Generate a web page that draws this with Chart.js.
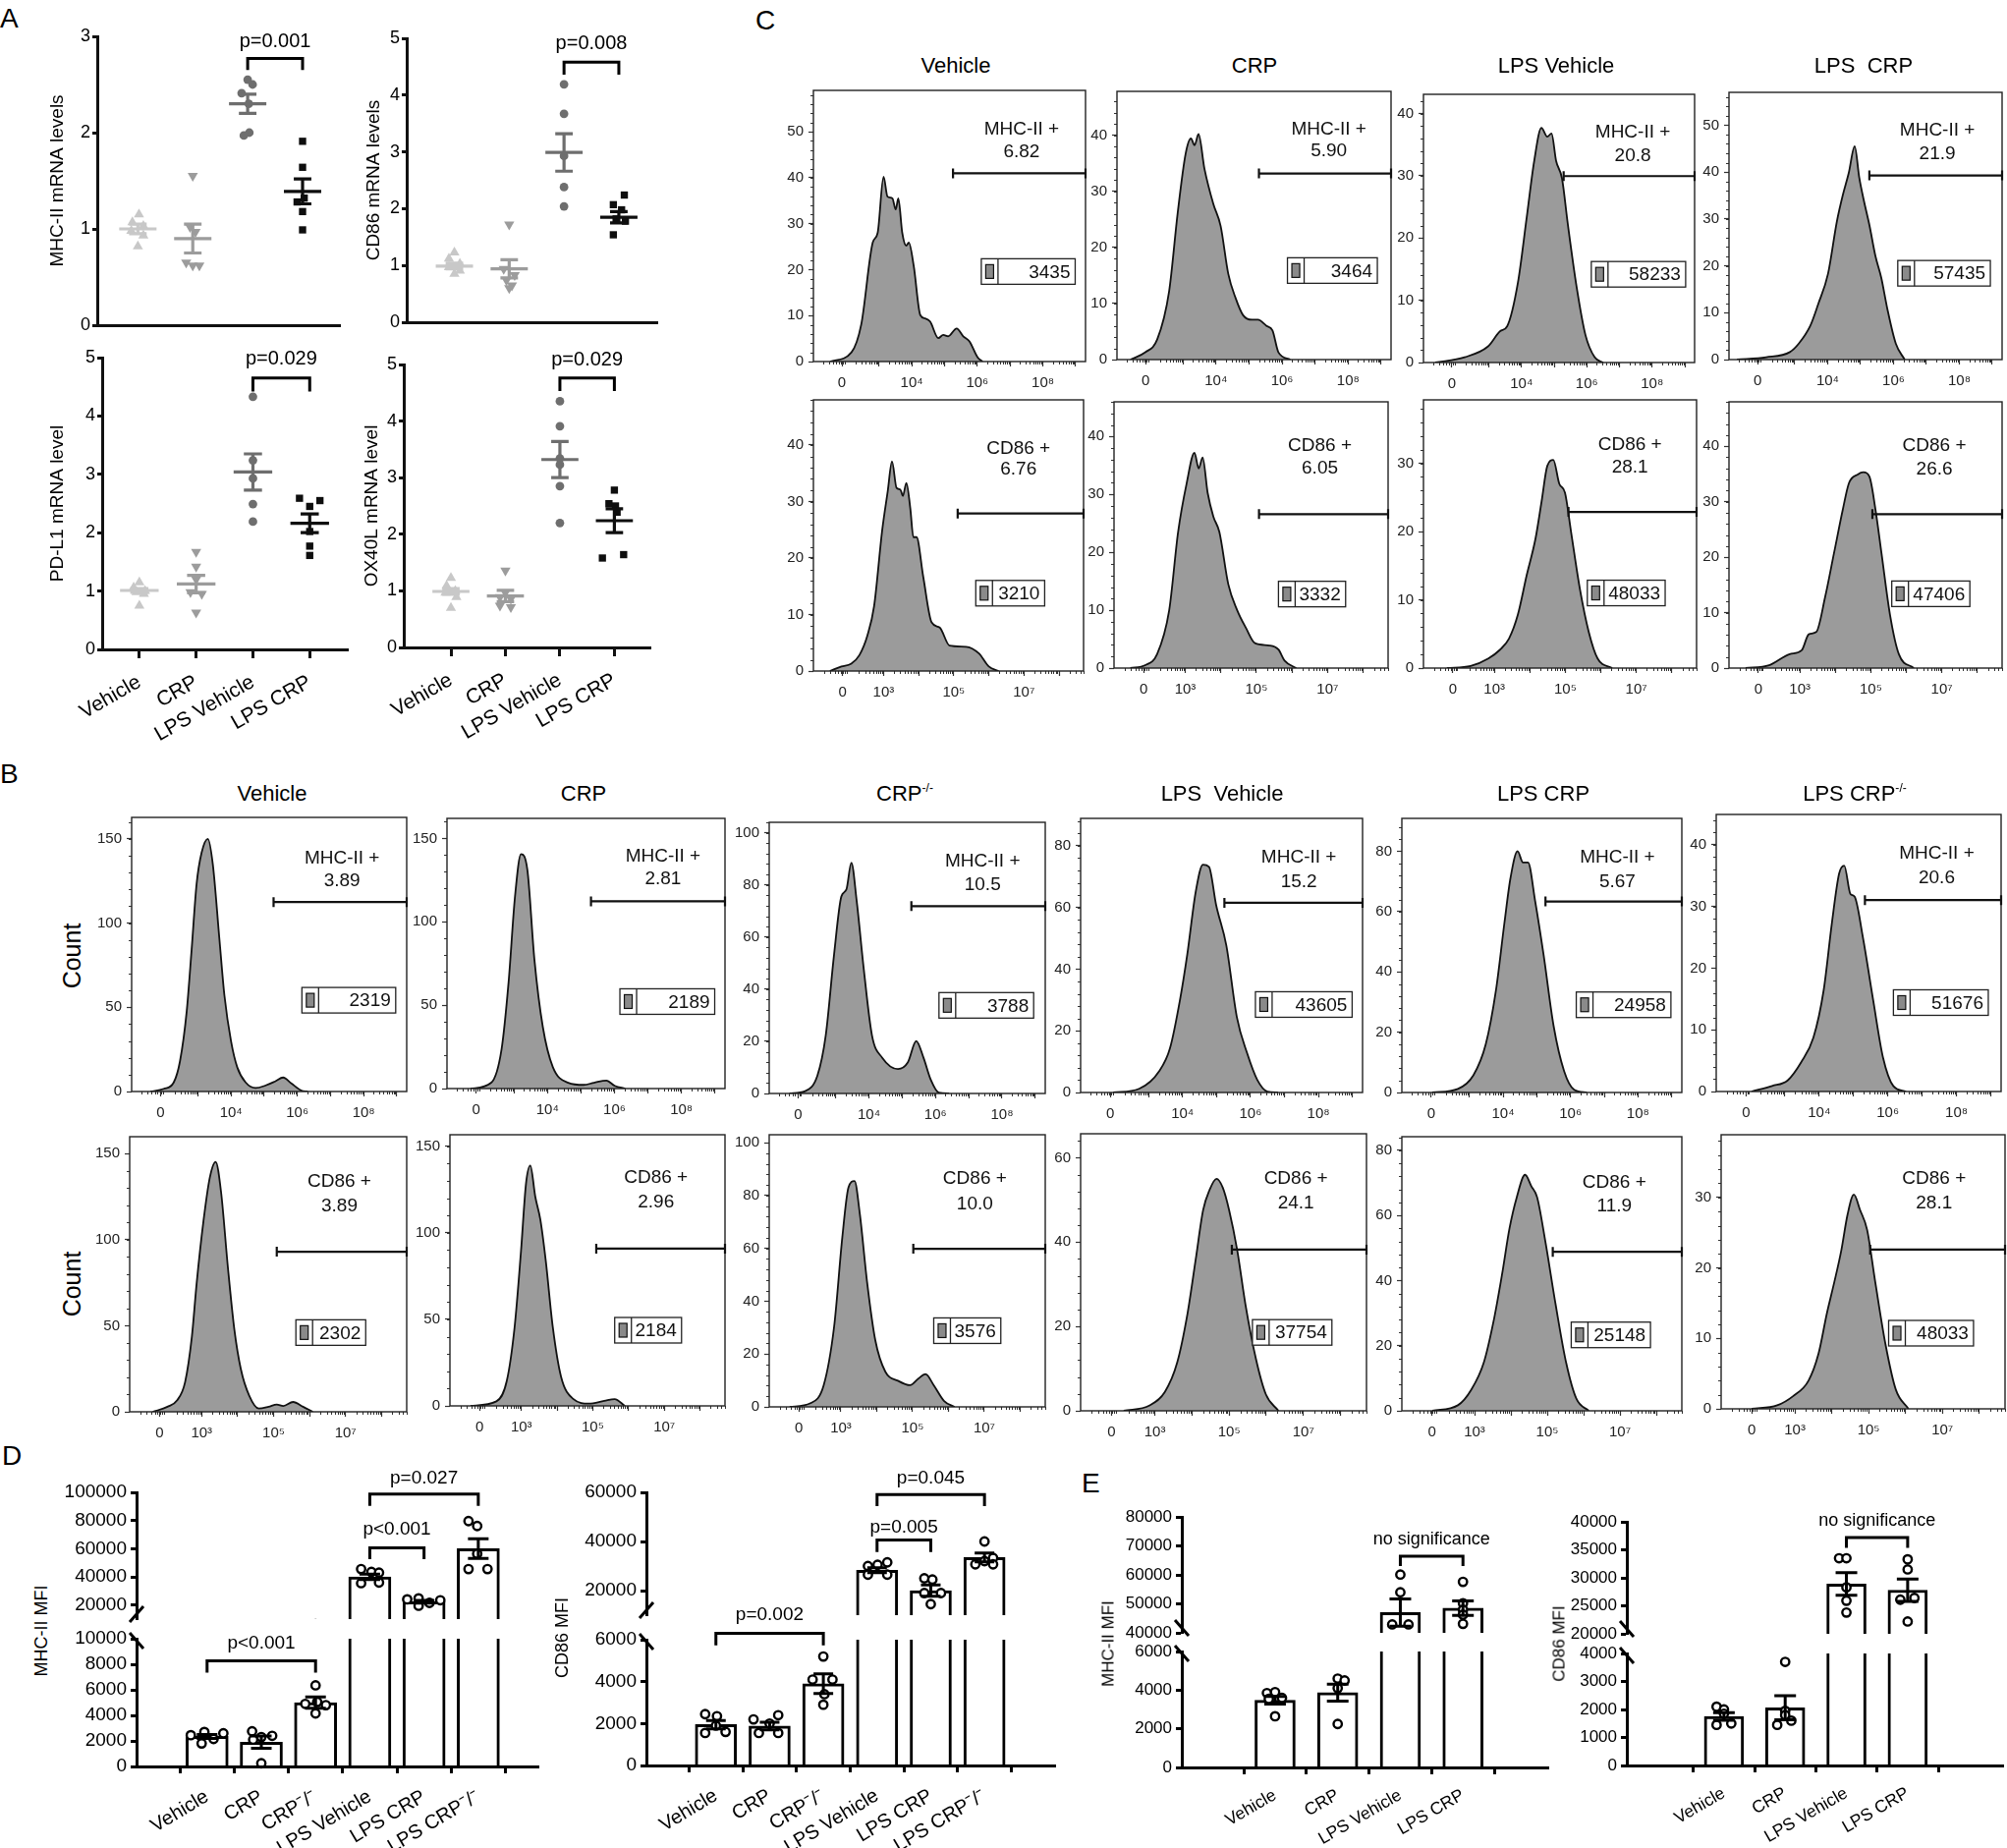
<!DOCTYPE html>
<html><head><meta charset="utf-8"><title>Figure</title>
<script src="https://cdn.jsdelivr.net/npm/chart.js"></script>
<style>
html,body{margin:0;padding:0;background:#fff;}
#page{position:relative;width:2043px;height:1881px;overflow:hidden;background:#fff;}
.t{position:absolute;white-space:pre;line-height:1;font-family:'Liberation Sans',Arial,Helvetica,sans-serif;color:#000;}
.t sup{font-size:0.55em;vertical-align:0.75em;line-height:0;}
canvas{position:absolute;}
</style></head><body><div id="page"></div>
<script>
// ================= DATA =================
// ---- Panel A (relative mRNA levels) ----
const aGroups = ['Vehicle', 'CRP', 'LPS Vehicle', 'LPS CRP'];
const aMhcPts = [[1.15,1.07,1.03,0.98,0.93,0.82],[1.55,1.02,0.97,0.65,0.62,0.62],[2.55,2.5,2.41,2.3,2.0,1.97],[1.91,1.64,1.32,1.28,1.18,0.99]];
const aMhcMean = [1.0, 0.9, 2.3, 1.39];
const aMhcSem = [0.05, 0.15, 0.1, 0.13];
const aCd86Pts = [[1.23,1.12,1.03,0.97,0.91,0.85],[1.72,0.94,0.83,0.74,0.65,0.6],[4.19,3.67,2.93,2.38,2.04],[2.24,2.07,1.98,1.82,1.78,1.54]];
const aCd86Mean = [0.99, 0.94, 2.99, 1.85];
const aCd86Sem = [0.05, 0.16, 0.33, 0.1];
const aPdl1Pts = [[1.15,1.06,1.0,0.98,0.95,0.75],[1.67,1.42,1.2,0.98,0.95,0.63],[4.33,3.24,2.93,2.49,2.19],[2.59,2.55,2.45,2.02,1.77,1.61]];
const aPdl1Mean = [1.01, 1.12, 3.04, 2.16];
const aPdl1Sem = [0.03, 0.15, 0.31, 0.16];
const aOx40lPts = [[1.23,1.09,1.0,0.97,0.89,0.7],[1.36,0.97,0.89,0.86,0.74,0.71],[4.35,3.91,3.34,3.23,2.85,2.2],[2.78,2.54,2.5,2.39,1.64,1.58]];
const aOx40lMean = [0.99, 0.91, 3.32, 2.24];
const aOx40lSem = [0.05, 0.1, 0.32, 0.21];
const aPvals = ['p=0.001', 'p=0.008', 'p=0.029', 'p=0.029'];
const aTitles = ['MHC-II mRNA levels', 'CD86 mRNA levels', 'PD-L1 mRNA level', 'OX40L mRNA level'];

// ---- Panels B / C (flow histograms: [x in decades, count]) ----
const mhcTickPos = [1.87, 3, 4, 5, 6, 7, 8, 9];
const mhcTickLabels = ['0', '', '10⁴', '', '10⁶', '', '10⁸', ''];
const cd86TickPos = [1.83, 3, 4, 5, 6, 7, 8];
const cd86TickLabels = ['0', '10³', '', '10⁵', '', '10⁷', ''];

const cMhcVehicle = [[1.51,0],[2.16,2],[2.46,8.1],[2.81,25.9],[2.96,28],[3.14,40.2],[3.26,35.9],[3.41,35.5],[3.51,33.1],[3.59,35.5],[3.71,28],[3.83,25.2],[3.91,25.9],[4.06,20.8],[4.26,10.1],[4.41,9.4],[4.56,8.7],[4.81,5.1],[4.96,5.8],[5.11,5.5],[5.37,7.2],[5.57,5.5],[5.76,4.4],[6.01,0.9],[6.16,0]];
const cMhcCrp = [[1.41,0],[1.86,1.3],[2.22,3.6],[2.58,12.2],[2.84,26.2],[3.08,36.7],[3.24,39.4],[3.35,38.2],[3.47,40.2],[3.65,34],[3.92,27.7],[4.14,23.8],[4.37,15.3],[4.59,11],[4.82,7.9],[5.09,7.1],[5.27,7.1],[5.53,6.0],[5.71,5.2],[5.89,1.3],[6.25,0]];
const cMhcLpsVehicle = [[1.36,0],[2.26,0.85],[2.98,2.6],[3.35,5.05],[3.56,5.8],[3.89,12.8],[4.16,23.3],[4.39,32.4],[4.61,37.7],[4.79,36.3],[4.92,36.8],[5.06,32.4],[5.24,29.6],[5.42,22.2],[5.69,12.1],[5.96,4.4],[6.24,0.85],[6.5,0]];
const cMhcLpsCrp = [[1.24,0],[2.13,0.5],[2.85,1.6],[3.12,3.4],[3.47,7.2],[3.71,11.8],[4.01,18.3],[4.28,29.5],[4.46,35.1],[4.64,39.8],[4.82,45.5],[4.96,38.8],[5.09,34.2],[5.27,28.6],[5.45,22.1],[5.63,17.4],[5.81,10.9],[6.07,3.4],[6.34,0]];
const cCd86Vehicle = [[1.47,0],[1.8,0.8],[2.08,1.3],[2.31,2.8],[2.54,6.3],[2.73,11.5],[2.96,24.9],[3.12,31.9],[3.24,37.1],[3.37,32.4],[3.48,32.1],[3.55,31],[3.65,33.3],[3.76,28.9],[3.85,23.7],[3.94,23.7],[4.13,16.7],[4.37,8.6],[4.6,7.7],[4.88,4.5],[5.35,4.3],[5.72,3.1],[6.0,0.8],[6.28,0]];
const cCd86Crp = [[1.46,0],[1.88,0.5],[2.21,2.4],[2.55,10],[2.8,23.5],[3.04,31.9],[3.26,37.2],[3.38,34.5],[3.49,36.4],[3.63,30.3],[3.79,26.2],[3.96,23.5],[4.21,14.5],[4.46,10],[4.71,6.9],[4.96,4.3],[5.37,3.9],[5.62,3.2],[5.79,1.3],[6.12,0]];
const cCd86LpsVehicle = [[1.66,0],[2.33,0.3],[2.83,1.4],[3.16,2.7],[3.41,4.3],[3.66,7.8],[3.91,13.6],[4.16,19],[4.33,24.4],[4.49,29.6],[4.66,30.5],[4.83,27],[4.99,25.7],[5.16,20],[5.41,11.6],[5.66,5.3],[5.91,1.4],[6.32,0]];
const cCd86LpsCrp = [[1.47,0],[2.13,0.5],[2.71,2.5],[3.05,3.2],[3.25,6.1],[3.46,6.5],[3.71,12.8],[3.96,20.7],[4.21,28.6],[4.38,33.3],[4.63,34.9],[4.79,35.3],[4.96,34.5],[5.13,28.6],[5.3,20.7],[5.54,9.6],[5.79,2.5],[6.21,0]];
const cMhcPct = ['6.82', '5.90', '20.8', '21.9'];
const cMhcMfi = ['3435', '3464', '58233', '57435'];
const cCd86Pct = ['6.76', '6.05', '28.1', '26.6'];
const cCd86Mfi = ['3210', '3332', '48033', '47406'];

const bMhcVehicle = [[1.57,0],[1.97,1.6],[2.27,5.4],[2.46,18.1],[2.66,47.3],[2.81,84.2],[2.96,123.2],[3.11,141.7],[3.3,150],[3.45,134.8],[3.65,90.1],[3.8,57],[4.0,29.8],[4.19,14.2],[4.44,5.4],[4.74,2.1],[5.03,3.5],[5.33,6.0],[5.57,8.3],[5.82,4.8],[6.12,0.6],[6.31,0]];
const bMhcCrp = [[1.71,0],[2.32,3.5],[2.63,23.7],[2.84,64],[3.03,115],[3.21,140.6],[3.4,131.2],[3.61,77.4],[3.86,37.1],[4.16,12.9],[4.62,3.5],[5.08,2.2],[5.39,3.5],[5.76,4.8],[6.01,1.6],[6.32,0]];
const bMhcCrpKo = [[1.61,0],[2.08,0.9],[2.45,6.9],[2.7,22.3],[2.95,53.3],[3.17,75.6],[3.32,78.2],[3.47,88.5],[3.63,73.9],[3.84,48.1],[4.09,22.3],[4.4,13.7],[4.87,9.4],[5.17,12],[5.42,20.1],[5.64,13.7],[5.86,5.2],[6.1,0.3],[6.41,0]];
const bMhcLpsVehicle = [[1.96,0],[2.72,1.2],[3.32,7],[3.63,14.3],[3.93,30.3],[4.14,44.8],[4.39,65.2],[4.6,73.9],[4.78,73.2],[4.99,60.8],[5.29,47.7],[5.6,24.4],[5.9,12.8],[6.2,4.1],[6.5,0.3],[6.81,0]];
const bMhcLpsCrp = [[1.9,0],[2.66,1.2],[3.12,5.7],[3.49,16.1],[3.79,33.9],[4.04,56.2],[4.22,71.1],[4.43,80],[4.59,76.3],[4.74,76.3],[4.95,63.6],[5.2,45.8],[5.5,22],[5.81,7.1],[6.11,0.9],[6.48,0]];
const bMhcLpsCrpKo = [[2.03,0],[2.63,0.9],[3.08,1.8],[3.47,4.7],[3.83,8.7],[4.13,16.4],[4.37,27.3],[4.58,35.3],[4.73,36.6],[4.91,32],[5.03,31.6],[5.27,25.1],[5.57,14.9],[5.86,5.5],[6.16,0.9],[6.53,0]];
const bCd86Vehicle = [[1.64,0],[2.05,2.9],[2.32,6.7],[2.54,17.2],[2.73,43.9],[2.86,74.3],[3.05,110.6],[3.23,136.3],[3.39,145.2],[3.54,127.7],[3.73,83.9],[3.91,47.7],[4.09,24.8],[4.32,9.5],[4.59,1.9],[4.86,2.9],[5.09,4.2],[5.27,3.4],[5.54,5.7],[5.82,2.9],[6.09,0]];
const bCd86Crp = [[1.58,0],[2.3,2.6],[2.59,14.3],[2.81,45.4],[2.99,89.5],[3.13,128.5],[3.25,138.8],[3.39,120.7],[3.53,107.7],[3.68,84.3],[3.88,45.4],[4.11,16.9],[4.46,3.9],[4.89,1.3],[5.32,2.9],[5.61,3.9],[5.9,0]];
const bCd86CrpKo = [[1.57,0],[2.15,1.4],[2.52,8.2],[2.81,30.3],[3.04,64.3],[3.21,83],[3.38,85.5],[3.53,72.8],[3.73,47.3],[3.96,25.2],[4.24,13.3],[4.59,9.9],[4.93,8.2],[5.16,10.7],[5.36,12.4],[5.59,8.2],[5.88,2.2],[6.17,0]];
const bCd86LpsVehicle = [[2.16,0],[2.86,1.3],[3.27,4.5],[3.6,11.4],[3.88,23.1],[4.1,35.9],[4.3,47.6],[4.47,52.3],[4.66,55],[4.83,52.9],[5.0,47.6],[5.22,38],[5.44,25.2],[5.72,12.4],[5.99,3.9],[6.33,0]];
const bCd86LpsCrp = [[1.84,0],[2.54,1.7],[2.91,6.5],[3.25,14.7],[3.54,28.5],[3.76,42.2],[3.96,56],[4.16,65.6],[4.39,72.5],[4.56,69],[4.72,65.6],[4.95,51.8],[5.23,32.6],[5.52,14.7],[5.8,3.7],[6.14,0]];
const bCd86LpsCrpKo = [[1.83,0],[2.52,0.5],[2.95,1.8],[3.37,4],[3.64,7.8],[3.87,13.6],[4.07,18],[4.26,22.5],[4.43,27.6],[4.6,30.4],[4.77,28.2],[4.96,25.4],[5.18,18],[5.46,9.1],[5.74,2.7],[6.08,0]];
const bMhcPct = ['3.89', '2.81', '10.5', '15.2', '5.67', '20.6'];
const bMhcMfi = ['2319', '2189', '3788', '43605', '24958', '51676'];
const bCd86Pct = ['3.89', '2.96', '10.0', '24.1', '11.9', '28.1'];
const bCd86Mfi = ['2302', '2184', '3576', '37754', '25148', '48033'];

// ---- Panel D (MFI) ----
const dGroups = ['Vehicle', 'CRP', 'CRP⁻/⁻', 'LPS Vehicle', 'LPS CRP', 'LPS CRP⁻/⁻'];
const dMhcPts = [[2450,1800,2700,2150,2600],[2750,2300,250,2400,2100],[6350,4900,4800,4150,5050],[45500,43500,43000,35500,36000],[24000,24700,19500,21500,23400],[79600,76100,56400,45500,45500]];
const dMhcMean = [2350, 1900, 5000, 40000, 22300, 60000];
const dMhcSem = [150, 480, 450, 2000, 1000, 7000];
const dMhcP = ['p<0.001', 'p<0.001', 'p=0.027'];
const dCd86Pts = [[2450,2350,1550,1600,1900],[2200,2400,1550,1550,2000],[5200,4100,4100,2900,3400],[30000,30500,31500,26500,26500],[25000,24500,19000,19000,14500],[40000,30700,33300,30700,32000]];
const dCd86Mean = [1950, 1880, 3900, 28300, 20000, 33500];
const dCd86Sem = [200, 180, 470, 1000, 2300, 1800];
const dCd86P = ['p=0.002', 'p=0.005', 'p=0.045'];

// ---- Panel E (MFI) ----
const eGroups = ['Vehicle', 'CRP', 'LPS Vehicle', 'LPS CRP'];
const eMhcPts = [[3850,3900,3600,3550,2650],[4600,4500,4100,2250],[60100,54000,42900,42900],[57600,50200,48000,46300,43100]];
const eMhcMean = [3480, 3870, 47000, 48500];
const eMhcSem = [200, 440, 4700, 2500];
const eCd86Pts = [[2100,2000,1850,1500,1450],[3700,1950,1800,1450,1600],[33500,33500,28300,25900,23800],[33300,31500,26100,26400,22200]];
const eCd86Mean = [1750, 2060, 28900, 27800];
const eCd86Sem = [140, 430, 2000, 2000];
const eP = ['no significance'];

// ================= LAYOUT (positions, jitter, styles) =================
const FONT = "'Liberation Sans', Arial, Helvetica, sans-serif";
Chart.defaults.font.family = FONT;
Chart.defaults.color = '#000';
const page = document.getElementById('page');

function makeChart(area, m, cfg) {
  const L = Math.round(area.l) - m.l, T = Math.round(area.t) - m.t;
  const R = Math.round(area.r) + m.r, B = Math.round(area.b) + m.b;
  const W = R - L, H = B - T;
  const cv = document.createElement('canvas');
  cv.width = W; cv.height = H;
  cv.style.left = L + 'px'; cv.style.top = T + 'px';
  cv.style.width = W + 'px'; cv.style.height = H + 'px';
  page.appendChild(cv);
  const o = cfg.options;
  o.responsive = false; o.animation = false; o.devicePixelRatio = 1; o.events = [];
  o.plugins = Object.assign({legend: {display: false}, tooltip: {enabled: false}, title: {display: false}}, o.plugins || {});
  o.layout = {autoPadding: false, padding: {left: 0, top: m.t, right: m.r, bottom: 0}};
  o.scales.x.afterFit = s => { s.height = m.b; s.paddingLeft = 0; s.paddingRight = 0; };
  o.scales.y.afterFit = s => { s.width = m.l; s.paddingTop = 0; s.paddingBottom = 0; };
  return new Chart(cv, cfg);
}

function txt(html, x, y, size, o) {
  o = o || {};
  const d = document.createElement('div');
  d.className = 't'; d.innerHTML = html;
  d.style.left = x + 'px'; d.style.top = y + 'px'; d.style.fontSize = size + 'px';
  let tf = o.lt ? '' : 'translate(-50%,-50%)';
  if (o.rot) tf += ' rotate(-90deg)';
  if (tf) d.style.transform = tf;
  page.appendChild(d);
}

function bracket(ctx, x, y, br, text, font, lw) {
  const x1 = x.getPixelForValue(br.g1), x2 = x.getPixelForValue(br.g2);
  const p1 = y.getPixelForValue(br.y), p2 = y.getPixelForValue(br.y2);
  ctx.strokeStyle = '#000'; ctx.lineWidth = lw; ctx.lineJoin = 'miter'; ctx.lineCap = 'butt';
  ctx.beginPath(); ctx.moveTo(x1, p2); ctx.lineTo(x1, p1); ctx.lineTo(x2, p1); ctx.lineTo(x2, p2); ctx.stroke();
  ctx.fillStyle = '#000'; ctx.font = font; ctx.textAlign = 'center'; ctx.textBaseline = 'middle';
  ctx.fillText(text, (x1 + x2) / 2, y.getPixelForValue(br.ty));
}

// ---------- Panel A ----------
const aStyles = [
  {ps: 'triangle', rot: 0, c: '#c8c8c8', r: 6},
  {ps: 'triangle', rot: 180, c: '#9c9c9c', r: 6},
  {ps: 'circle', rot: 0, c: '#6e6e6e', r: 4.4},
  {ps: 'rect', rot: 0, c: '#0e0e0e', r: 5.2}
];
function dotOverlay(P) {
  return {id: 'dotov', afterDatasetsDraw(chart) {
    const {ctx, scales: {x, y}} = chart;
    ctx.save(); ctx.lineWidth = 3.2; ctx.lineCap = 'butt';
    P.means.forEach((mv, i) => {
      const g = i + 1; ctx.strokeStyle = aStyles[i].c;
      const xc = x.getPixelForValue(g), hw = x.getPixelForValue(g + 0.34) - xc, cw = x.getPixelForValue(g + 0.16) - xc;
      const pm = y.getPixelForValue(mv), ph = y.getPixelForValue(mv + P.sems[i]), pl = y.getPixelForValue(mv - P.sems[i]);
      ctx.beginPath();
      ctx.moveTo(xc - hw, pm); ctx.lineTo(xc + hw, pm);
      ctx.moveTo(xc, ph); ctx.lineTo(xc, pl);
      ctx.moveTo(xc - cw, ph); ctx.lineTo(xc + cw, ph);
      ctx.moveTo(xc - cw, pl); ctx.lineTo(xc + cw, pl);
      ctx.stroke();
    });
    bracket(ctx, x, y, P.br, P.ptxt, '20px ' + FONT, 3);
    ctx.restore();
  }};
}
function dotPanel(area, m, P) {
  const ds = P.pts.map((g, i) => ({
    type: 'scatter',
    data: g.map((v, j) => ({x: i + 1 + P.jit[i][j], y: v})),
    pointStyle: aStyles[i].ps, pointRotation: aStyles[i].rot, pointRadius: aStyles[i].r,
    pointBackgroundColor: aStyles[i].c, pointBorderColor: aStyles[i].c, pointBorderWidth: 0
  }));
  const yt = []; for (let v = 0; v <= P.ymax; v++) yt.push(v);
  const cfg = {type: 'scatter', data: {datasets: ds}, options: {scales: {
    x: {type: 'linear', min: P.xmin, max: P.xmax,
        afterBuildTicks: s => { s.ticks = [1, 2, 3, 4].map(v => ({value: v})); },
        ticks: {display: P.showX, autoSkip: false, minRotation: 30, maxRotation: 30, padding: 12, font: {size: 21}, color: '#000', callback: (v, i) => aGroups[i]},
        grid: {display: true, drawOnChartArea: false, drawTicks: P.showX, tickLength: 9, tickWidth: 3, tickColor: '#111'},
        border: {display: true, width: 3, color: '#111', z: 1}},
    y: {type: 'linear', min: 0, max: P.ymax,
        afterBuildTicks: s => { s.ticks = yt.map(v => ({value: v})); },
        ticks: {autoSkip: false, padding: 2, font: {size: 18}, color: '#000', callback: v => String(v)},
        grid: {drawOnChartArea: false, tickLength: 5, tickWidth: 3, tickColor: '#111'},
        border: {width: 3, color: '#111', z: 1},
        title: {display: true, text: P.title, font: {size: 19}, color: '#000', padding: 0}}
  }}, plugins: [dotOverlay(P)]};
  makeChart(area, m, cfg);
}

dotPanel({l: 99.4, t: 37, r: 345.6, b: 331}, {l: 52, t: 22, r: 8, b: 6}, {
  pts: aMhcPts, means: aMhcMean, sems: aMhcSem, ymax: 3, xmin: 0.26, xmax: 4.68, showX: false, title: aTitles[0], ptxt: aPvals[0],
  jit: [[0.02,-0.1,0.1,-0.12,0.1,0],[0,-0.05,0.05,-0.12,0,0.12],[0,0.09,-0.11,0.02,0.03,-0.07],[0,0,0.03,-0.1,0,0]],
  br: {g1: 3, g2: 4, y: 2.77, y2: 2.65, ty: 2.94}});
dotPanel({l: 414.4, t: 39, r: 669, b: 328}, {l: 45, t: 22, r: 8, b: 6}, {
  pts: aCd86Pts, means: aCd86Mean, sems: aCd86Sem, ymax: 5, xmin: 0.13, xmax: 4.7, showX: false, title: aTitles[1], ptxt: aPvals[1],
  jit: [[0,-0.1,0.1,-0.1,0.1,0],[0,-0.1,0.1,-0.05,0.05,0],[0,0,0,0,0],[0.1,-0.1,0.05,-0.05,0.12,-0.1]],
  br: {g1: 3, g2: 4, y: 4.58, y2: 4.36, ty: 4.9}});
dotPanel({l: 104.2, t: 364, r: 353.9, b: 661}, {l: 57, t: 22, r: 8, b: 120}, {
  pts: aPdl1Pts, means: aPdl1Mean, sems: aPdl1Sem, ymax: 5, xmin: 0.345, xmax: 4.67, showX: true, title: aTitles[2], ptxt: aPvals[2],
  jit: [[0,-0.1,0.1,-0.05,0.08,0],[0,0,0,-0.1,0.1,0],[0,0,0,0,0],[-0.18,0.18,0,0,0,0]],
  br: {g1: 3, g2: 4, y: 4.65, y2: 4.42, ty: 4.98}});
dotPanel({l: 411, t: 371, r: 661.7, b: 659}, {l: 44, t: 22, r: 8, b: 120}, {
  pts: aOx40lPts, means: aOx40lMean, sems: aOx40lSem, ymax: 5, xmin: 0.134, xmax: 4.66, showX: true, title: aTitles[3], ptxt: aPvals[3],
  jit: [[0,-0.08,0.08,-0.1,0.1,0],[0,0,-0.1,0.1,-0.1,0.1],[0,0,0,0,0,0],[0,-0.1,0.02,0.05,0.17,-0.22]],
  br: {g1: 3, g2: 4, y: 4.76, y2: 4.53, ty: 5.07}});

// ---------- Histograms (B, C) ----------
const MHC = {min: 1.0, max: 9.3, pos: mhcTickPos, labels: mhcTickLabels};
const CD86 = {min: 1.0, max: 8.7, pos: cd86TickPos, labels: cd86TickLabels};

function histOverlay(ymax, minor, ann, marker, pct, mfi) {
  return {id: 'histov', afterDraw(chart) {
    const {ctx, chartArea: a, scales: {x, y}} = chart;
    const W = a.right - a.left, H = a.bottom - a.top;
    const fx = f => a.left + f * W, fy = f => a.top + f * H;
    ctx.save();
    ctx.strokeStyle = '#333'; ctx.lineWidth = 1;
    ctx.beginPath();
    for (let v = 0; v <= ymax + 1e-6; v += minor) { const p = Math.round(y.getPixelForValue(v)) + 0.5; ctx.moveTo(a.left - 3, p); ctx.lineTo(a.left, p); }
    for (let k = 1; k <= 9; k++) for (let mm = 2; mm <= 9; mm++) {
      const d = k + Math.log10(mm);
      if (d > x.min && d < x.max) { const p = Math.round(x.getPixelForValue(d)) + 0.5; ctx.moveTo(p, a.bottom); ctx.lineTo(p, a.bottom + 3); }
    }
    ctx.stroke();
    ctx.strokeStyle = '#222'; ctx.lineWidth = 1.4;
    ctx.strokeRect(a.left, a.top, W, H);
    const gx = fx(ann.g[0]), gy = fy(ann.g[1]);
    ctx.strokeStyle = '#111'; ctx.lineWidth = 2.2;
    ctx.beginPath(); ctx.moveTo(gx, gy); ctx.lineTo(a.right, gy);
    ctx.moveTo(gx, gy - 5); ctx.lineTo(gx, gy + 5); ctx.moveTo(a.right, gy - 5); ctx.lineTo(a.right, gy + 5); ctx.stroke();
    ctx.fillStyle = '#111'; ctx.font = '19px ' + FONT; ctx.textAlign = 'center'; ctx.textBaseline = 'middle';
    ctx.fillText(marker, fx(ann.l[0]), fy(ann.l[1]));
    ctx.fillText(pct, fx(ann.l[0]), fy(ann.l[2]));
    const bx1 = fx(ann.b[0]), bx2 = fx(ann.b[1]), bc = fy(ann.b[2]), bh = 26;
    ctx.fillStyle = '#fff'; ctx.fillRect(bx1, bc - bh / 2, bx2 - bx1, bh);
    ctx.lineWidth = 1.3; ctx.strokeStyle = '#222'; ctx.strokeRect(bx1, bc - bh / 2, bx2 - bx1, bh);
    ctx.beginPath(); ctx.moveTo(bx1 + 17, bc - bh / 2); ctx.lineTo(bx1 + 17, bc + bh / 2); ctx.stroke();
    ctx.fillStyle = '#8a8a8a'; ctx.fillRect(bx1 + 4.5, bc - 7, 8, 14);
    ctx.lineWidth = 1.2; ctx.strokeStyle = '#111'; ctx.strokeRect(bx1 + 4.5, bc - 7, 8, 14);
    ctx.fillStyle = '#111'; ctx.textAlign = 'right'; ctx.fillText(mfi, bx2 - 5, bc + 1);
    ctx.restore();
  }};
}

function hist(area, curve, ymax, ystep, ax, ann, marker, pct, mfi) {
  const yt = []; for (let v = 0; v <= ymax + 1e-6; v += ystep) yt.push(v);
  const minor = ystep === 50 ? 10 : ystep / 5;
  const gridOpt = {display: true, drawOnChartArea: false, drawTicks: true, tickLength: 5, tickWidth: 1.2, tickColor: '#333'};
  const cfg = {type: 'line',
    data: {datasets: [{data: curve.map(p => ({x: p[0], y: p[1]})), borderColor: '#111', borderWidth: 1.8,
      backgroundColor: '#9b9b9b', fill: 'origin', pointRadius: 0, cubicInterpolationMode: 'monotone'}]},
    options: {scales: {
      x: {type: 'linear', min: ax.min, max: ax.max,
          afterBuildTicks: s => { s.ticks = ax.pos.map(v => ({value: v})); },
          ticks: {autoSkip: false, minRotation: 0, maxRotation: 0, padding: 8, color: '#222', font: {size: 15}, callback: (v, i) => ax.labels[i]},
          grid: gridOpt, border: {display: false}},
      y: {type: 'linear', min: 0, max: ymax,
          afterBuildTicks: s => { s.ticks = yt.map(v => ({value: v})); },
          ticks: {autoSkip: false, padding: 5, color: '#222', font: {size: 15}, callback: v => String(v)},
          grid: gridOpt, border: {display: false}}
    }},
    plugins: [histOverlay(ymax, minor, ann, marker, pct, mfi)]};
  makeChart(area, {l: 44, t: 4, r: 4, b: 36}, cfg);
}

// Panel C, row 1 (MHC-II) and row 2 (CD86)
hist({l: 828, t: 92.3, r: 1105, b: 367.7}, cMhcVehicle, 59, 10, MHC, {g: [.513, .306], l: [.765, .143, .228], b: [.617, .962, .668]}, 'MHC-II +', cMhcPct[0], cMhcMfi[0]);
hist({l: 1137.3, t: 93.1, r: 1415.7, b: 366.4}, cMhcCrp, 47.8, 10, MHC, {g: [.518, .306], l: [.773, .143, .224], b: [.622, .95, .668]}, 'MHC-II +', cMhcPct[1], cMhcMfi[1]);
hist({l: 1448.8, t: 95.8, r: 1725.4, b: 368.7}, cMhcLpsVehicle, 43.1, 10, MHC, {g: [.517, .305], l: [.772, .141, .231], b: [.619, .967, .671]}, 'MHC-II +', cMhcPct[2], cMhcMfi[2]);
hist({l: 1759.6, t: 94.4, r: 2038, b: 366.4}, cMhcLpsCrp, 57, 10, MHC, {g: [.514, .311], l: [.763, .144, .229], b: [.618, .957, .677]}, 'MHC-II +', cMhcPct[3], cMhcMfi[3]);
hist({l: 828.3, t: 407.3, r: 1103, b: 682.7}, cCd86Vehicle, 48, 10, CD86, {g: [.534, .419], l: [.759, .18, .258], b: [.601, .856, .713]}, 'CD86 +', cCd86Pct[0], cCd86Mfi[0]);
hist({l: 1134.3, t: 409.1, r: 1412.7, b: 679.8}, cCd86Crp, 46, 10, CD86, {g: [.529, .422], l: [.751, .167, .25], b: [.6, .845, .722]}, 'CD86 +', cCd86Pct[1], cCd86Mfi[1]);
hist({l: 1448.8, t: 406.9, r: 1727.2, b: 679.8}, cCd86LpsVehicle, 39.3, 10, CD86, {g: [.531, .418], l: [.756, .166, .251], b: [.6, .885, .72]}, 'CD86 +', cCd86Pct[2], cCd86Mfi[2]);
hist({l: 1759.6, t: 409.1, r: 2038, b: 679.8}, cCd86LpsCrp, 48, 10, CD86, {g: [.525, .422], l: [.752, .167, .254], b: [.596, .882, .721]}, 'CD86 +', cCd86Pct[3], cCd86Mfi[3]);

// Panel B, row 1 (MHC-II) and row 2 (CD86)
hist({l: 134, t: 832.3, r: 414, b: 1111}, bMhcVehicle, 162.7, 50, MHC, {g: [.516, .309], l: [.765, .151, .231], b: [.619, .96, .667]}, 'MHC-II +', bMhcPct[0], bMhcMfi[0]);
hist({l: 454.5, t: 832.5, r: 737.5, b: 1107.9}, bMhcCrp, 162, 50, MHC, {g: [.518, .307], l: [.777, .141, .224], b: [.622, .963, .678]}, 'MHC-II +', bMhcPct[1], bMhcMfi[1]);
hist({l: 782.6, t: 837, r: 1063.5, b: 1113.3}, bMhcCrpKo, 104, 20, MHC, {g: [.515, .309], l: [.773, .144, .232], b: [.615, .958, .675]}, 'MHC-II +', bMhcPct[2], bMhcMfi[2]);
hist({l: 1100.2, t: 833.4, r: 1387.4, b: 1112.4}, bMhcLpsVehicle, 88.9, 20, MHC, {g: [.51, .308], l: [.774, .144, .231], b: [.62, .963, .679]}, 'MHC-II +', bMhcPct[3], bMhcMfi[3]);
hist({l: 1427.3, t: 833.4, r: 1712.4, b: 1112.4}, bMhcLpsCrp, 90.9, 20, MHC, {g: [.513, .303], l: [.77, .144, .231], b: [.623, .961, .68]}, 'MHC-II +', bMhcPct[4], bMhcMfi[4]);
hist({l: 1747, t: 828.9, r: 2037.3, b: 1111}, bMhcLpsCrpKo, 44.9, 10, MHC, {g: [.522, .309], l: [.774, .142, .231], b: [.622, .955, .679]}, 'MHC-II +', bMhcPct[5], bMhcMfi[5]);
hist({l: 131.7, t: 1157.3, r: 414, b: 1436.7}, bCd86Vehicle, 159.8, 50, CD86, {g: [.531, .418], l: [.757, .165, .251], b: [.6, .852, .712]}, 'CD86 +', bCd86Pct[0], bCd86Mfi[0]);
hist({l: 457.7, t: 1155.3, r: 737.5, b: 1430.7}, bCd86Crp, 156.6, 50, CD86, {g: [.532, .42], l: [.749, .159, .249], b: [.599, .842, .721]}, 'CD86 +', bCd86Pct[1], bCd86Mfi[1]);
hist({l: 782.6, t: 1155.3, r: 1063.5, b: 1432}, bCd86CrpKo, 103, 20, CD86, {g: [.522, .419], l: [.745, .163, .254], b: [.596, .839, .72]}, 'CD86 +', bCd86Pct[2], bCd86Mfi[2]);
hist({l: 1100.2, t: 1154.4, r: 1390.6, b: 1436.2}, bCd86LpsVehicle, 65.7, 20, CD86, {g: [.529, .418], l: [.753, .162, .251], b: [.601, .879, .717]}, 'CD86 +', bCd86Pct[3], bCd86Mfi[3]);
hist({l: 1427.3, t: 1156.7, r: 1712.4, b: 1436.2}, bCd86LpsCrp, 84.2, 20, CD86, {g: [.539, .42], l: [.759, .168, .253], b: [.605, .888, .723]}, 'CD86 +', bCd86Pct[4], bCd86Mfi[4]);
hist({l: 1752.2, t: 1155.3, r: 2040.5, b: 1434.3}, bCd86LpsCrpKo, 38.9, 10, CD86, {g: [.525, .419], l: [.75, .161, .251], b: [.59, .889, .724]}, 'CD86 +', bCd86Pct[5], bCd86Mfi[5]);

// ---------- Panels D, E (broken-axis bar charts) ----------
function barOverlay(P, S, isLow) {
  return {id: 'barov', afterDatasetsDraw(chart) {
    const {ctx, chartArea: a, scales: {x, y}} = chart;
    ctx.save();
    ctx.beginPath(); ctx.rect(a.left - 30, a.top - 3, a.right - a.left + 60, a.bottom - a.top + 6); ctx.clip();
    ctx.strokeStyle = '#000'; ctx.lineWidth = 3; ctx.lineCap = 'butt';
    P.means.forEach((mv, i) => {
      const xc = x.getPixelForValue(i), ph = y.getPixelForValue(mv + P.sems[i]), pl = y.getPixelForValue(mv - P.sems[i]);
      ctx.beginPath();
      ctx.moveTo(xc, ph); ctx.lineTo(xc, pl);
      ctx.moveTo(xc - P.cap, ph); ctx.lineTo(xc + P.cap, ph);
      ctx.moveTo(xc - P.cap, pl); ctx.lineTo(xc + P.cap, pl);
      ctx.stroke();
    });
    ctx.restore();
    ctx.save();
    S.br.forEach((b, k) => bracket(ctx, x, y, b, S.ptxt[k], P.brFont, 3));
    ctx.strokeStyle = '#000'; ctx.lineWidth = 3;
    const by = isLow ? a.top + 2 : a.bottom - 5;
    const dir = isLow ? P.brkLow : P.brkUp;
    ctx.beginPath(); ctx.moveTo(a.left - 7, by - 8 * dir); ctx.lineTo(a.left + 7, by + 8 * dir); ctx.stroke();
    ctx.restore();
  }};
}
function barPanel(P) {
  ['upper', 'lower'].forEach(seg => {
    const S = P[seg], isLow = seg === 'lower';
    const ptsData = [];
    P.pts.forEach((g, i) => g.forEach((v, j) => ptsData.push({x: i + P.jit[i][j], y: v})));
    const clipPts = isLow ? {top: 0, bottom: 8, left: 8, right: 8} : {top: 8, bottom: 0, left: 8, right: 8};
    const cfg = {type: 'bar', data: {datasets: [
      {type: 'scatter', data: ptsData, order: 0, pointRadius: 4.2, pointBorderWidth: 2.4, pointBackgroundColor: '#fff', pointBorderColor: '#000', pointStyle: 'circle', clip: clipPts},
      {type: 'bar', data: P.means.map((v, i) => ({x: i, y: v})), order: 1, barThickness: P.barW, backgroundColor: '#fff', borderColor: '#000', borderWidth: 3, borderSkipped: 'bottom', clip: 0}
    ]}, options: {scales: {
      x: {type: 'linear', min: P.xmin, max: P.xmax,
          afterBuildTicks: s => { s.ticks = P.labels.map((l, i) => ({value: i})); },
          ticks: {display: isLow, autoSkip: false, minRotation: P.rot, maxRotation: P.rot, padding: P.lblPad, font: {size: P.lblSize}, color: '#000', callback: (v, i) => P.labels[i]},
          grid: {display: isLow, drawOnChartArea: false, tickLength: 7, tickWidth: 3, tickColor: '#000'},
          border: {display: isLow, width: 3, color: '#000', z: 1}},
      y: {type: 'linear', min: S.min, max: S.max,
          afterBuildTicks: s => { s.ticks = S.ticks.map(v => ({value: v})); },
          ticks: {autoSkip: false, padding: 4, font: {size: P.tickSize}, color: '#000', callback: v => String(v)},
          grid: {drawOnChartArea: false, tickLength: 6, tickWidth: 3, tickColor: '#000'},
          border: {width: 3, color: '#000', z: 1}}
    }}, plugins: [barOverlay(P, S, isLow)]};
    makeChart(S.area, isLow ? P.mLow : P.mUp, cfg);
  });
}

barPanel({labels: dGroups, pts: dMhcPts, means: dMhcMean, sems: dMhcSem,
  jit: [[-0.3,-0.1,-0.05,0.12,0.3],[-0.17,0,0,0.2,-0.15],[0,-0.19,0.19,0,0.03],[-0.16,0.03,0.17,-0.16,0.17],[-0.31,-0.1,-0.1,0.1,0.3],[-0.18,-0.02,-0.02,-0.18,0.17]],
  xmin: -0.683, xmax: 5.49, barW: 43, cap: 10.5, rot: 31, lblSize: 20, lblPad: 12, tickSize: 19, brFont: '19px ' + FONT, brkUp: -1, brkLow: 1,
  mUp: {l: 80, t: 42, r: 12, b: 10}, mLow: {l: 80, t: 45, r: 12, b: 90},
  upper: {area: {l: 138.6, t: 1519, r: 548, b: 1648.3}, min: 10000, max: 100000, ticks: [20000, 40000, 60000, 80000, 100000],
    br: [{g1: 3, g2: 4, y: 60560, y2: 52490, ty: 73800}, {g1: 3, g2: 5, y: 98820, y2: 90470, ty: 109700}], ptxt: [dMhcP[1], dMhcP[2]]},
  lower: {area: {l: 138.6, t: 1668.3, r: 548, b: 1798.3}, min: 0, max: 10000, ticks: [0, 2000, 4000, 6000, 8000, 10000],
    br: [{g1: 0, g2: 2, y: 8277, y2: 7354, ty: 9615}], ptxt: [dMhcP[0]]}});

barPanel({labels: dGroups, pts: dCd86Pts, means: dCd86Mean, sems: dCd86Sem,
  jit: [[-0.2,0.02,-0.2,0.18,0],[-0.3,0.16,-0.2,0.16,0],[0,-0.2,0.17,0,0.02],[-0.17,0.01,0.19,-0.17,0.19],[-0.12,0.03,-0.12,0.19,0],[0,-0.17,0.16,0.16,0]],
  xmin: -0.66, xmax: 5.68, barW: 42, cap: 10, rot: 31, lblSize: 20, lblPad: 12, tickSize: 19, brFont: '19px ' + FONT, brkUp: -1, brkLow: 1,
  mUp: {l: 80, t: 42, r: 12, b: 10}, mLow: {l: 80, t: 45, r: 12, b: 90},
  upper: {area: {l: 658, t: 1519.3, r: 1073.9, b: 1644.3}, min: 10000, max: 60000, ticks: [20000, 40000, 60000],
    br: [{g1: 3, g2: 4, y: 40640, y2: 35730, ty: 45720}, {g1: 3, g2: 5, y: 59070, y2: 54400, ty: 65700}], ptxt: [dCd86P[1], dCd86P[2]]},
  lower: {area: {l: 658, t: 1669.3, r: 1073.9, b: 1797.3}, min: 0, max: 6000, ticks: [0, 2000, 4000, 6000],
    br: [{g1: 0, g2: 2, y: 6300, y2: 5730, ty: 7190}], ptxt: [dCd86P[0]]}});

barPanel({labels: eGroups, pts: eMhcPts, means: eMhcMean, sems: eMhcSem,
  jit: [[-0.13,0,0.11,-0.1,0],[0,0.11,0,0],[0,0,-0.13,0.13],[0,0,0,0,0]],
  xmin: -0.758, xmax: 3.63, barW: 41, cap: 11, rot: 30, lblSize: 17.5, lblPad: 11, tickSize: 17, brFont: '18px ' + FONT, brkUp: 1, brkLow: 1,
  mUp: {l: 72, t: 42, r: 10, b: 10}, mLow: {l: 72, t: 20, r: 10, b: 85},
  upper: {area: {l: 1203.3, t: 1544.3, r: 1576, b: 1661.7}, min: 40000, max: 80000, ticks: [40000, 50000, 60000, 70000, 80000],
    br: [{g1: 2, g2: 3, y: 66470, y2: 63060, ty: 72160}], ptxt: [eP[0]]},
  lower: {area: {l: 1203.3, t: 1681, r: 1576, b: 1799}, min: 0, max: 6000, ticks: [0, 2000, 4000, 6000], br: [], ptxt: []}});

barPanel({labels: eGroups, pts: eCd86Pts, means: eCd86Mean, sems: eCd86Sem,
  jit: [[-0.12,0,0,0.12,-0.12],[0,0,0,-0.13,0.1],[-0.12,0,0,0,0],[0,0,-0.12,0.11,0]],
  xmin: -0.818, xmax: 3.79, barW: 40, cap: 11, rot: 30, lblSize: 17.5, lblPad: 11, tickSize: 17, brFont: '18px ' + FONT, brkUp: 1, brkLow: 1,
  mUp: {l: 72, t: 42, r: 10, b: 10}, mLow: {l: 72, t: 20, r: 10, b: 85},
  upper: {area: {l: 1656, t: 1549, r: 2039, b: 1663.3}, min: 20000, max: 40000, ticks: [20000, 25000, 30000, 35000, 40000],
    br: [{g1: 2, g2: 3, y: 37200, y2: 35330, ty: 40120}], ptxt: [eP[0]]},
  lower: {area: {l: 1656, t: 1682.7, r: 2039, b: 1797.3}, min: 0, max: 4000, ticks: [0, 1000, 2000, 3000, 4000], br: [], ptxt: []}});

// ---------- Text labels ----------
txt('A', 0, 5, 28, {lt: true});
txt('B', 0, 774, 28, {lt: true});
txt('C', 769, 7, 28, {lt: true});
txt('D', 2, 1468, 28, {lt: true});
txt('E', 1101, 1496, 28, {lt: true});
txt('Vehicle', 973, 67, 22); txt('CRP', 1277, 67, 22); txt('LPS Vehicle', 1584, 67, 22); txt('LPS  CRP', 1897, 67, 22);
txt('Vehicle', 277, 808, 22); txt('CRP', 594, 808, 22); txt('CRP<sup>-/-</sup>', 921, 808, 22);
txt('LPS  Vehicle', 1244, 808, 22); txt('LPS CRP', 1571, 808, 22); txt('LPS CRP<sup>-/-</sup>', 1888, 808, 22);
txt('Count', 73, 973, 25, {rot: true}); txt('Count', 73, 1307, 25, {rot: true});
txt('MHC-II MFI', 42, 1660, 18, {rot: true}); txt('CD86 MFI', 572, 1667, 18, {rot: true});
txt('MHC-II MFI', 1128, 1673, 17, {rot: true}); txt('CD86 MFI', 1587, 1673, 17, {rot: true});
</script></body></html>
